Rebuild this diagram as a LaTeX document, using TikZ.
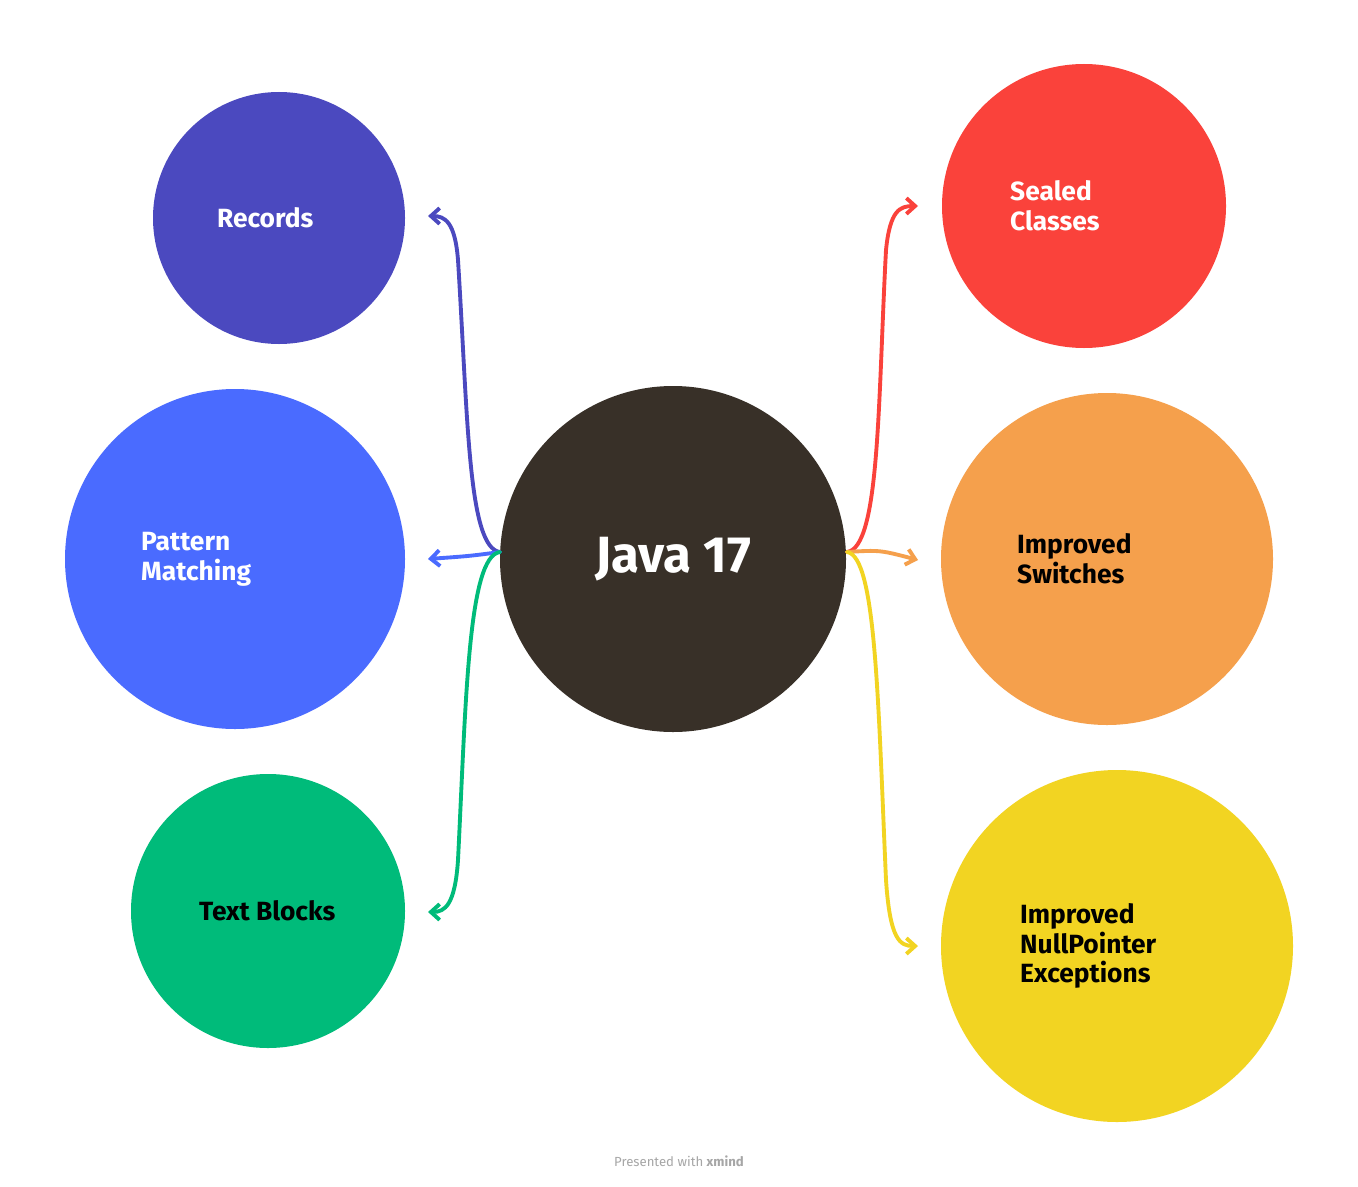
\documentclass[tikz,border=0pt]{standalone}
\usepackage{fontspec}
\setmainfont{Fira Sans}
\usetikzlibrary{arrows.meta}
\definecolor{crec}{HTML}{4B49BF}
\definecolor{cpat}{HTML}{4A6BFF}
\definecolor{ctxt}{HTML}{00BB7A}
\definecolor{cjav}{HTML}{383028}
\definecolor{csea}{HTML}{FA423B}
\definecolor{cswi}{HTML}{F5A04C}
\definecolor{cnul}{HTML}{F2D422}
\tikzset{
 bub/.style={circle,inner sep=0pt},
 lab/.style={font=\bfseries\fontsize{15}{17}\selectfont,align=left,anchor=west},
 conn/.style={line width=2.2pt,line cap=round,-{Straight Barb[length=5pt,width=9pt]}}
}
\begin{document}
\begin{tikzpicture}[x=0.02cm,y=-0.02cm]
\useasboundingbox[fill=white] (0,0) rectangle (1358,1186);
\node[bub,fill=crec,minimum size=252*0.02cm] (rec) at (279,218) {};
\node[bub,fill=cpat,minimum size=340*0.02cm] (pat) at (235,559) {};
\node[bub,fill=ctxt,minimum size=274*0.02cm] (txt) at (268,911) {};
\node[bub,fill=cjav,minimum size=346*0.02cm] (jav) at (673,559) {};
\node[bub,fill=csea,minimum size=284*0.02cm] (sea) at (1084,206) {};
\node[bub,fill=cswi,minimum size=332*0.02cm] (swi) at (1107,559) {};
\node[bub,fill=cnul,minimum size=352*0.02cm] (nul) at (1117,946) {};
\node[lab,text=white] at (211,218) {Records};
\node[lab,text=white] at (135,559) {Pattern\\Matching};
\node[lab,text=black] at (193,911) {Text Blocks};
\node[lab,text=white] at (1004,206) {Sealed\\Classes};
\node[lab,text=black] at (1011,559) {Improved\\Switches};
\node[lab,text=black] at (1014,946) {Improved\\NullPointer\\Exceptions};
\node[font=\bfseries\fontsize{29}{32}\selectfont,text=white] at (673,559) {Java 17};
\node[font=\fontsize{7.5}{9}\selectfont,text=black!35] at (679,1161) {Presented with \textbf{xmind}};
\coordinate (jl) at (500,552);
\coordinate (jr) at (847,552);
\coordinate (arec) at (428,216);
\coordinate (apat) at (428,559);
\coordinate (atxt) at (428,912);
\coordinate (asea) at (918,206);
\coordinate (aswi) at (918,560);
\coordinate (anul) at (918,946);
\draw[conn,crec] (jl) .. controls (468,548) and (468,420) .. (458,260) .. controls (455,222) and (445,216) .. (arec);
\draw[conn,cpat] (jl) .. controls (470,556) .. (apat);
\draw[conn,ctxt] (jl) .. controls (468,556) and (466,700) .. (458,860) .. controls (455,905) and (445,912) .. (atxt);
\draw[conn,csea] (jr) .. controls (880,548) and (878,400) .. (886,250) .. controls (890,210) and (900,206) .. (asea);
\draw[conn,cswi] (jr) .. controls (880,550) .. (aswi);
\draw[conn,cnul] (jr) .. controls (876,556) and (878,700) .. (886,880) .. controls (890,940) and (900,946) .. (anul);
\end{tikzpicture}
\end{document}
